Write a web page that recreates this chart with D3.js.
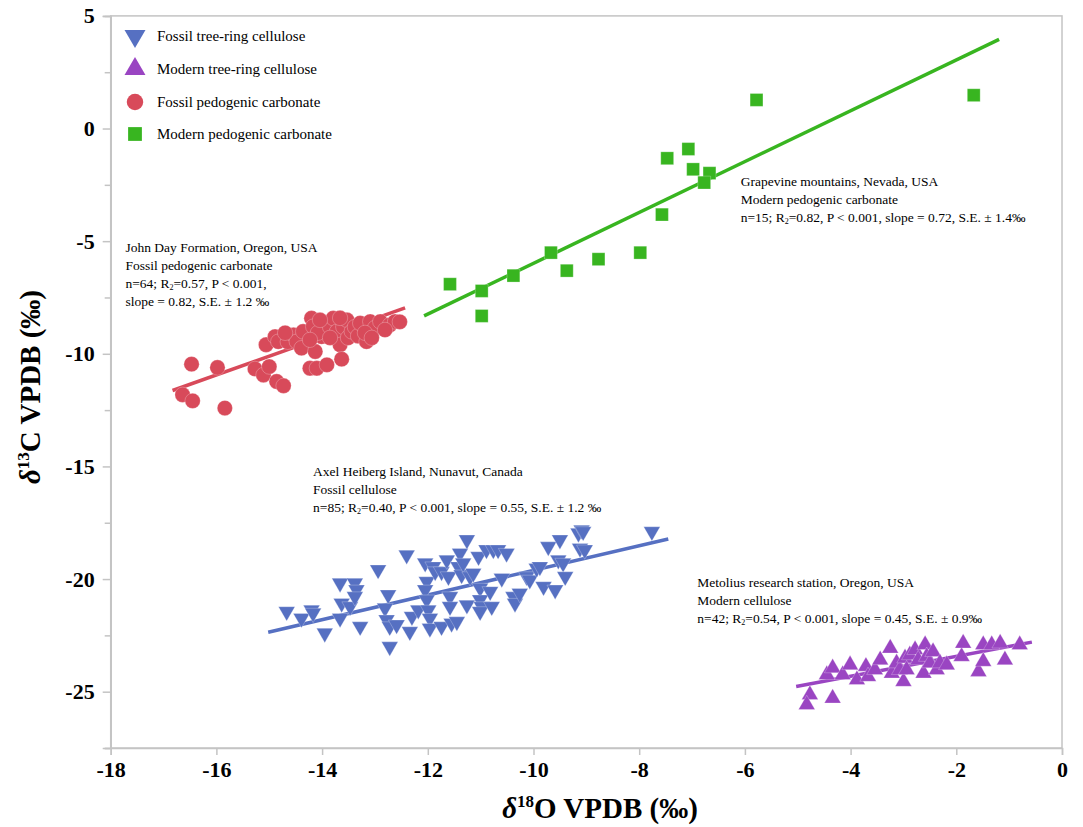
<!DOCTYPE html>
<html lang="en">
<head>
<meta charset="utf-8">
<script src="https://cdn.jsdelivr.net/npm/d3@7/dist/d3.min.js"></script>
<style>
  body { margin: 0; background: #fff; }
  svg { display: block; font-family: "Liberation Serif", "Times New Roman", serif; }
</style>
</head>
<body>
<div id="chart"></div>
<script>
// data: [d18O, d13C]
let fossilCellulose = [
  [-14.67, -21.44], [-14.39, -21.74], [-14.20, -21.37], [-14.17, -21.51], [-13.95, -22.40],
  [-13.66, -20.18], [-13.63, -21.07], [-13.66, -21.74], [-13.47, -21.22], [-13.38, -20.18],
  [-13.35, -20.48], [-13.38, -20.78], [-13.28, -22.11], [-12.94, -19.59], [-12.75, -20.70],
  [-12.81, -21.29], [-12.78, -21.81], [-12.72, -22.11], [-12.59, -22.03], [-12.72, -23.00],
  [-12.40, -18.93], [-12.30, -21.66], [-12.34, -22.33], [-12.18, -21.37], [-12.05, -19.29],
  [-12.02, -20.11], [-12.05, -20.48], [-12.02, -20.92], [-11.99, -21.37], [-11.96, -21.74],
  [-11.96, -22.18], [-11.90, -19.45], [-11.86, -19.67], [-11.74, -19.67], [-11.74, -22.11],
  [-11.64, -19.15], [-11.61, -19.89], [-11.58, -20.78], [-11.58, -21.22], [-11.55, -21.96],
  [-11.45, -21.89], [-11.42, -19.45], [-11.39, -18.85], [-11.36, -19.81], [-11.33, -19.29],
  [-11.26, -18.26], [-11.20, -19.89], [-11.26, -21.15], [-11.14, -19.74], [-11.04, -19.00],
  [-11.01, -20.40], [-11.01, -20.92], [-10.98, -21.22], [-11.01, -21.44], [-10.89, -18.70],
  [-10.82, -20.55], [-10.79, -21.22], [-10.76, -18.70], [-10.67, -18.70], [-10.60, -19.96],
  [-10.51, -18.85], [-10.38, -20.78], [-10.35, -21.07], [-10.26, -20.63], [-10.13, -19.89],
  [-10.07, -20.04], [-9.94, -19.52], [-9.88, -19.45], [-9.81, -20.33], [-9.72, -18.56],
  [-9.59, -20.48], [-9.53, -19.15], [-9.50, -18.26], [-9.44, -19.29], [-9.40, -19.89],
  [-9.15, -17.96], [-9.12, -18.63], [-9.09, -17.82], [-9.06, -17.89], [-9.03, -18.70],
  [-7.76, -17.89]
]
let modernCellulose = [
  [-4.77, -25.14], [-4.83, -25.58], [-4.34, -25.29], [-4.45, -24.25], [-4.34, -23.95],
  [-4.15, -24.25], [-4.01, -23.81], [-3.88, -24.47], [-3.71, -23.88], [-3.67, -24.33],
  [-3.54, -24.03], [-3.44, -23.59], [-3.25, -23.07], [-3.22, -24.18], [-3.13, -23.73],
  [-3.07, -24.03], [-2.97, -23.51], [-3.00, -24.55], [-2.94, -24.03], [-2.88, -23.37],
  [-2.78, -23.14], [-2.72, -23.59], [-2.59, -22.92], [-2.62, -24.18], [-2.56, -23.44],
  [-2.50, -23.73], [-2.44, -23.23], [-2.37, -24.03], [-2.31, -23.73], [-2.18, -23.81],
  [-1.90, -23.44], [-1.87, -22.85], [-1.58, -24.11], [-1.49, -23.66], [-1.49, -22.92],
  [-1.33, -22.92], [-1.17, -22.85], [-1.08, -23.59], [-0.80, -22.92]
]
let fossilCarbonate = [
  [-16.47, -10.46], [-15.98, -10.61], [-16.64, -11.82], [-16.45, -12.09], [-15.84, -12.41],
  [-15.27, -10.67], [-15.11, -10.94], [-15.00, -10.57], [-14.86, -11.23], [-14.73, -11.42],
  [-15.06, -9.60], [-14.89, -9.24], [-14.83, -9.46], [-14.65, -9.47], [-14.54, -9.16],
  [-14.48, -9.46], [-14.39, -9.75], [-14.36, -9.01], [-14.20, -8.42], [-14.17, -8.79],
  [-14.13, -9.90], [-14.23, -10.64], [-14.10, -10.64], [-13.91, -10.49], [-13.98, -8.79],
  [-14.01, -9.24], [-14.08, -9.07], [-13.85, -8.81], [-13.79, -8.42], [-13.72, -9.01],
  [-13.66, -9.60], [-13.63, -10.24], [-13.60, -8.81], [-13.53, -8.50], [-13.51, -9.29],
  [-13.44, -9.01], [-13.38, -8.81], [-13.32, -9.21], [-13.28, -8.64], [-13.16, -9.46],
  [-13.09, -8.57], [-13.00, -8.85], [-12.90, -8.57], [-12.72, -8.72], [-12.62, -8.57],
  [-14.04, -8.50], [-13.66, -8.41], [-13.19, -9.07], [-12.81, -8.94], [-12.53, -8.58],
  [-14.23, -9.38], [-13.85, -9.29], [-14.70, -9.07], [-13.06, -9.29]
]
let modernCarbonate = [
  [-11.58, -6.91], [-10.98, -7.21], [-10.98, -8.32], [-10.38, -6.53], [-9.67, -5.51],
  [-9.37, -6.31], [-8.77, -5.80], [-7.98, -5.51], [-7.57, -3.82], [-7.47, -1.32],
  [-7.07, -0.91], [-6.98, -1.81], [-6.67, -1.98], [-6.77, -2.40], [-5.78, 1.27],
  [-1.67, 1.48]
]
// regression line end points [x0, y0, x1, y1]
let fitFossilCellulose = [-15.02, -22.36, -7.45, -18.22]
let fitModernCellulose = [-5.03, -24.77, -0.57, -22.80]
let fitFossilCarbonate = [-16.83, -11.63, -12.43, -7.96]
let fitModernCarbonate = [-12.07, -8.32, -1.19, 3.96]

let legendLabels = ['Fossil tree-ring cellulose', 'Modern tree-ring cellulose',
                    'Fossil pedogenic carbonate', 'Modern pedogenic carbonate']
let xTicks = [-18, -16, -14, -12, -10, -8, -6, -4, -2, 0]
let yTicks = [5, 0, -5, -10, -15, -20, -25]
let yMinorTicks = [2.5, -2.5, -7.5, -12.5, -17.5, -22.5, -27.5]

let notes = [
  { x: -6.08, y: -2.55, lines: ['Grapevine mountains, Nevada, USA', 'Modern pedogenic carbonate',
      'n=15; R|=0.82, P < 0.001, slope = 0.72, S.E.  ± 1.4‰'] },
  { x: -17.72, y: -5.49, lines: ['John Day Formation, Oregon, USA', 'Fossil pedogenic carbonate',
      'n=64; R|=0.57, P < 0.001,', 'slope = 0.82, S.E. ± 1.2 ‰'] },
  { x: -14.17, y: -15.43, lines: ['Axel Heiberg Island, Nunavut, Canada', 'Fossil cellulose',
      'n=85; R|=0.40, P < 0.001, slope = 0.55, S.E. ± 1.2 ‰'] },
  { x: -6.90, y: -20.35, lines: ['Metolius research station, Oregon, USA', 'Modern cellulose',
      'n=42; R|=0.54, P < 0.001, slope = 0.45, S.E.  ± 0.9‰'] }
]

let w = 1083
let h = 827
let padLeft = 110.7, padRight = 1062, padTop = 15.9, padBottom = 748
let grey = '#c4c4c4'

let colors = ['#5670c2', '#9a45c2', '#d84a5a', '#38b520']

let svg = d3.select('#chart')
            .append('svg')
            .attr('width', w)
            .attr('height', h)

let scaleX = d3.scaleLinear().domain([-18, 0]).range([padLeft, padRight])
let scaleY = d3.scaleLinear().domain([-27.5, 5]).range([padBottom, padTop])

// frame
svg.append('rect')
   .attr('x', padLeft).attr('y', padTop)
   .attr('width', padRight - padLeft).attr('height', padBottom - padTop)
   .attr('fill', 'none').attr('stroke', grey).attr('stroke-width', 1.5)

// axes - plain hyphen for the minus sign, as in the figure
let plain = function(d) { return String(d) }
let xAxis = svg.append('g')
   .attr('transform', 'translate(0,' + padBottom + ')')
   .call(d3.axisBottom(scaleX).tickValues(xTicks).tickSize(7).tickPadding(6).tickFormat(plain))
let yAxis = svg.append('g')
   .attr('transform', 'translate(' + padLeft + ',0)')
   .call(d3.axisLeft(scaleY).tickValues(yTicks).tickSize(8).tickPadding(8).tickFormat(plain))
let yMinor = svg.append('g')
   .attr('transform', 'translate(' + padLeft + ',0)')
   .call(d3.axisLeft(scaleY).tickValues(yMinorTicks).tickSize(6).tickFormat(''))

svg.selectAll('.domain').attr('stroke', grey).attr('stroke-width', 1.5)
svg.selectAll('.tick line').attr('stroke', grey).attr('stroke-width', 1.5)
svg.selectAll('.tick text')
   .attr('fill', '#000')
   .attr('font-family', '"Liberation Serif", serif')
   .attr('font-weight', 'bold')
   .attr('font-size', 22)

// axis titles
let xTitle = svg.append('text')
   .attr('x', 600).attr('y', 818)
   .attr('text-anchor', 'middle')
   .attr('font-weight', 'bold').attr('font-size', 29)
xTitle.append('tspan').attr('font-style', 'italic').text('δ')
xTitle.append('tspan').attr('font-size', 17).attr('dy', -11).text('18')
xTitle.append('tspan').attr('dy', 11).text('O VPDB (‰)')

let yTitle = svg.append('text')
   .attr('transform', 'translate(40,387) rotate(-90)')
   .attr('text-anchor', 'middle')
   .attr('font-weight', 'bold').attr('font-size', 29)
yTitle.append('tspan').attr('font-style', 'italic').text('δ')
yTitle.append('tspan').attr('font-size', 17).attr('dy', -11).text('13')
yTitle.append('tspan').attr('dy', 11).text('C VPDB (‰)')

// regression lines
let fits = [fitFossilCellulose, fitModernCellulose, fitFossilCarbonate, fitModernCarbonate]
svg.selectAll('line.fit')
   .data(fits)
   .enter()
   .append('line')
   .attr('class', 'fit')
   .attr('x1', function(d) { return scaleX(d[0]) })
   .attr('y1', function(d) { return scaleY(d[1]) })
   .attr('x2', function(d) { return scaleX(d[2]) })
   .attr('y2', function(d) { return scaleY(d[3]) })
   .attr('stroke', function(d, i) { return colors[i] })
   .attr('stroke-width', 3.5)

// markers
let shapes = [
  { type: d3.symbolTriangle, size: 118, rotate: 180 },
  { type: d3.symbolTriangle, size: 118, rotate: 0 },
  { type: d3.symbolCircle, size: 185, rotate: 0 },
  { type: d3.symbolSquare, size: 165, rotate: 0 }
]
let series = [fossilCellulose, modernCellulose, fossilCarbonate, modernCarbonate]

series.forEach(function(data, i) {
  let sym = d3.symbol().type(shapes[i].type).size(shapes[i].size)
  svg.append('g')
     .selectAll('path')
     .data(data)
     .enter()
     .append('path')
     .attr('d', sym)
     .attr('transform', function(d) {
        return 'translate(' + scaleX(d[0]) + ',' + scaleY(d[1]) + ') rotate(' + shapes[i].rotate + ')'
     })
     .attr('fill', colors[i])
     .attr('stroke', '#fff')
     .attr('stroke-opacity', 0.5)
     .attr('stroke-width', 0.5)
})

// legend
let legend = svg.append('g')
let legendY = [36, 69, 102, 134]
legendLabels.forEach(function(label, i) {
  let sym = d3.symbol().type(shapes[i].type).size(i < 2 ? 190 : shapes[i].size * 1.15)
  legend.append('path')
        .attr('d', sym)
        .attr('transform', 'translate(135,' + legendY[i] + ') rotate(' + shapes[i].rotate + ')')
        .attr('fill', colors[i])
  legend.append('text')
        .attr('x', 157).attr('y', legendY[i] + 5)
        .attr('font-size', 15)
        .text(label)
})

// annotations; '|' marks the subscript 2
notes.forEach(function(n) {
  let t = svg.append('text')
     .attr('x', scaleX(n.x))
     .attr('y', scaleY(n.y))
     .attr('font-size', 13.5)
  n.lines.forEach(function(line, j) {
    let parts = line.split('|')
    t.append('tspan').attr('x', scaleX(n.x)).attr('dy', j === 0 ? 0 : 18).text(parts[0])
    if (parts.length > 1) {
      t.append('tspan').attr('font-size', 8).attr('dy', 2).text('2')
      t.append('tspan').attr('dy', -2).text(parts[1])
    }
  })
})
</script>
</body>
</html>
